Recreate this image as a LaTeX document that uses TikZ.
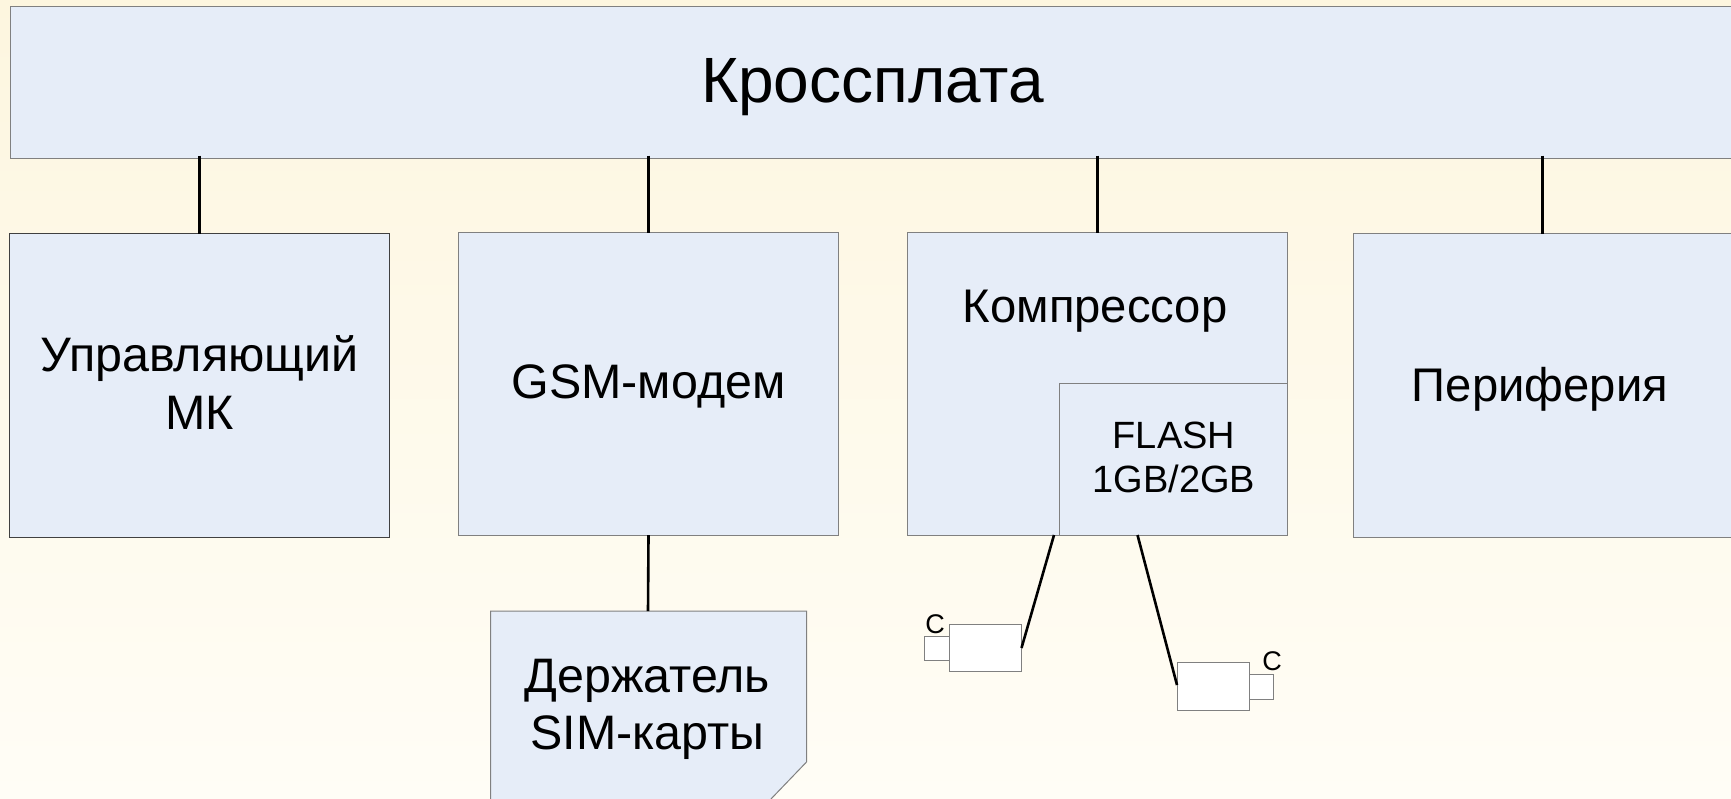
\documentclass[tikz,border=0pt]{standalone}
\usepackage{fontspec}
\setmainfont{Liberation Sans}
\usetikzlibrary{calc}
\definecolor{boxfill}{HTML}{E6EDF8}
\definecolor{edgegray}{HTML}{808080}
\definecolor{bgtop}{HTML}{FDF6DF}
\definecolor{bgbot}{HTML}{FFFDF6}
\tikzset{
  every node/.style={inner sep=0pt,outer sep=0pt,align=center,text=black},
  panel/.style={draw=edgegray,line width=1pt,fill=boxfill,minimum width=380pt,minimum height=303pt,anchor=north west},
  darkpanel/.style={panel,draw=black!75},
  whitebox/.style={draw=edgegray,line width=1pt,fill=white,anchor=north west},
  wire/.style={line width=2.6pt,black},
  stub/.style={wire,shorten <=-2.5pt,shorten >=-1pt},
  big/.style={font=\fontsize{48.4}{57.5}\selectfont},
  bigless/.style={font=\fontsize{47.2}{57.5}\selectfont},
  mid/.style={font=\fontsize{38}{44}\selectfont},
  tiny/.style={font=\fontsize{27}{27}\selectfont}
}
\begin{document}
\begin{tikzpicture}[x=1pt,y=-1pt]
\useasboundingbox (0,0) rectangle (1731,798);
\clip (0,0) rectangle (1731,798);
\shade[top color=bgtop,bottom color=bgbot] (0,0) rectangle (1731,798);
% top bar
\node[panel,minimum width=1724pt,minimum height=152pt] (top) at (10,6) {};
\node[font=\fontsize{64}{64}\selectfont] (toplabel) at (872.5,87) {Кроссплата};
% main boxes
\node[darkpanel,minimum height=304pt] (mk) at (9.5,233) {};
\node[big] (mklabel) at (199.5,382.5) {Управляющий\\МК};
\node[panel] (gsm) at (458.5,232) {};
\node[big] (gsmlabel) at (648.5,386.5) {GSM-модем};
\node[panel] (comp) at (907.5,232) {};
\node[bigless] (complabel) at (1095,311.5) {Компрессор};
\node[panel,minimum width=228pt,minimum height=152pt] (flash) at (1059.5,383) {};
\node[mid] (flashlabel) at (1174,457) {FLASH\\1GB/2GB};
\node[panel,minimum height=304pt] (per) at (1353.5,233) {};
\node[bigless] (perlabel) at (1540,389) {Периферия};
% SIM holder
\coordinate (simtop) at (648,611);
\path[draw=edgegray,line width=1pt,fill=boxfill] (490.5,611) -- (806.5,611) -- (806.5,762) -- (770,800) -- (490.5,800) -- cycle;
\node[big] (sim) at (647.5,709.5) {Держатель\\SIM-карты};
% camera left
\node[whitebox,minimum width=25pt,minimum height=24pt] (lcs) at (924,636) {};
\node[whitebox,minimum width=72pt,minimum height=47pt] (lc) at (949,624.5) {};
\coordinate (lcp) at (1021.5,648);
\coordinate (lct) at (1054,535);
\node[tiny] (lctext) at (935,624) {C};
% camera right
\node[whitebox,minimum width=24pt,minimum height=25pt] (rcs) at (1249,674) {};
\node[whitebox,minimum width=72pt,minimum height=48pt] (rc) at (1177,662) {};
\coordinate (rcp) at (1177,685);
\coordinate (rct) at (1137.5,535);
\node[tiny] (rctext) at (1272,661) {C};
% connectors
\draw[stub] (top.south -| mk.north) -- (mk.north);
\draw[stub] (top.south -| gsm.north) -- (gsm.north);
\draw[stub] (top.south -| comp.north) -- (comp.north);
\coordinate (perjoin) at (1542.5,233);
\draw[stub] (top.south -| perjoin) -- (perjoin);
\draw[wire] (gsm.south) -- (simtop);
\draw[wire] (lct) -- (lcp);
\draw[wire] (rct) -- (rcp);
\end{tikzpicture}
\end{document}
